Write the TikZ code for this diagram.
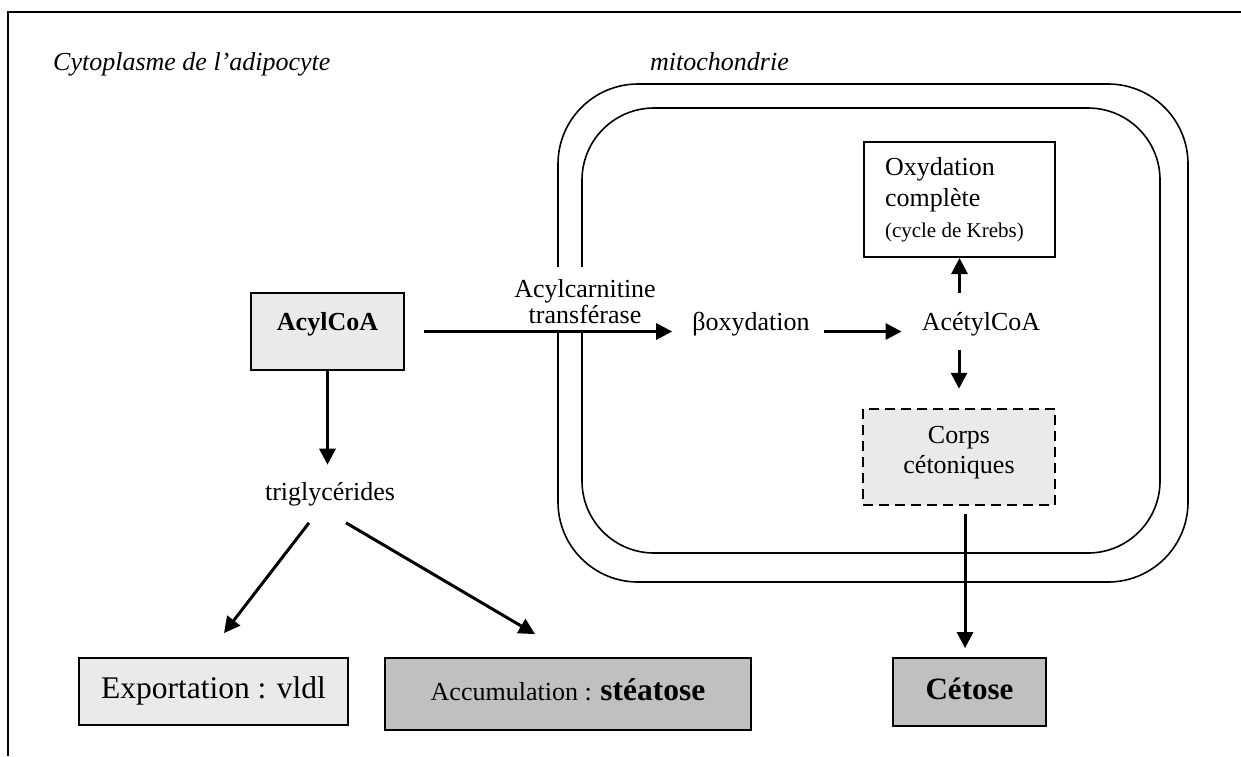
\documentclass[tikz,border=0pt]{standalone}
\usepackage{fontspec}
\setmainfont{Liberation Serif}
\usetikzlibrary{arrows.meta,calc}
\definecolor{light}{HTML}{EAEAEA}
\definecolor{dark}{HTML}{C0C0C0}
\begin{document}
\begin{tikzpicture}[x=1pt,y=-1pt,
  arr/.style={line width=3pt,-{Triangle[length=16pt,width=16pt]}},
  lbl/.style={inner sep=0pt,font=\fontsize{26}{31}\selectfont},
  boxlight/.style={draw,line width=1.8pt,fill=light,inner sep=0pt},
  boxdark/.style={draw,line width=1.8pt,fill=dark,inner sep=0pt},
  membrane/.style={line width=1.6pt}
]
\useasboundingbox (0,0) rectangle (1241,756);
% frame
\draw[line width=2pt] (8,756) -- (8,12) -- (1241,12);
% mitochondria membranes
\draw[membrane, rounded corners=80pt] (558,84) rectangle (1188,582);
\draw[membrane, rounded corners=72pt] (582,108) rectangle (1160,553);

% titles
\node[lbl, font=\itshape\fontsize{26}{31}\selectfont, anchor=base west] (cyto) at (53,70) {Cytoplasme de l’adipocyte};
\node[lbl, font=\itshape\fontsize{26}{31}\selectfont, anchor=base west] (mito) at (650,70) {mitochondrie};

% nodes
\node[boxlight, minimum width=153pt, text height=37pt, text depth=40pt, anchor=base,
      font=\bfseries\fontsize{26}{31}\selectfont] (acyl) at (327.5,330) {AcylCoA};
\node[lbl, fill=white, anchor=base, text height=30pt, text depth=9pt, inner xsep=3pt] (act1) at (585,297) {Acylcarnitine};
\node[lbl, fill=white, anchor=base, text height=20pt, text depth=7pt, inner xsep=3pt] (act2) at (585,323) {transférase};
\node[lbl, anchor=base] (box) at (751,330) {βoxydation};
\node[lbl, anchor=base] (ac) at (981,330) {AcétylCoA};
\node[draw, line width=2pt, inner xsep=21pt, inner ysep=0pt, text width=149pt,
      minimum height=115pt, align=flush left, anchor=north west,
      font=\fontsize{26}{31}\selectfont] (ox) at (863,141)
      {Oxydation\\complète\\{\fontsize{21}{30}\selectfont (cycle de Krebs)}};
\node[draw, fill=light, line width=2.5pt, dash pattern=on 10pt off 6pt,
      minimum width=192pt, minimum height=96pt, inner sep=0pt, align=center,
      font=\fontsize{26}{30}\selectfont] (corps) at (959,457)
      {Corps\\cétoniques\rule[-15pt]{0pt}{0pt}};
\node[boxdark, minimum width=153pt, text height=41pt, text depth=27pt, anchor=base,
      font=\bfseries\fontsize{31}{36}\selectfont] (cet) at (969.5,699) {Cétose};
\node[lbl, anchor=base] (trig) at (330,500) {triglycérides};
\node[boxlight, minimum width=269pt, text height=40pt, text depth=27pt, anchor=base,
      font=\fontsize{31.5}{36}\selectfont] (exp) at (213.5,698) {Exportation : vldl};
\node[boxdark, minimum width=366pt, text height=42pt, text depth=30pt, anchor=base,
      font=\fontsize{26}{31}\selectfont] (acc) at (568,700)
      {Accumulation : {\bfseries\fontsize{31.5}{36}\selectfont stéatose}};

% connectors
\draw[arr] ([xshift=19pt]acyl.east) -- ([xshift=-20pt]acyl.east -| box.west);
\draw[arr] ([xshift=14pt]acyl.east -| box.east) -- ([xshift=-20pt]acyl.east -| ac.west);
\coordinate (acN) at ($(ac.north)+(-21,-19)$);
\draw[arr] (ox.south |- acN) -- (ox.south);
\coordinate (acS) at ($(ac.south)+(-22,14)$);
\draw[arr] (corps.north |- acS) -- ($(corps.north)+(0,-19)$);
\coordinate (cs) at ($(corps.south)+(6,8)$);
\draw[arr] (cs) -- ($(cs |- cet.north)+(0,-9)$);
\draw[arr] (acyl.south) -- ($(trig.north -| acyl.south)+(0,-17)$);
\draw[arr] ($(trig.south)+(-21,17)$) -- ($(exp.north)+(10.5,-24)$);
\draw[arr] ($(trig.south)+(16,17)$) -- ($(acc.north)+(-33,-23)$);
\end{tikzpicture}
\end{document}
